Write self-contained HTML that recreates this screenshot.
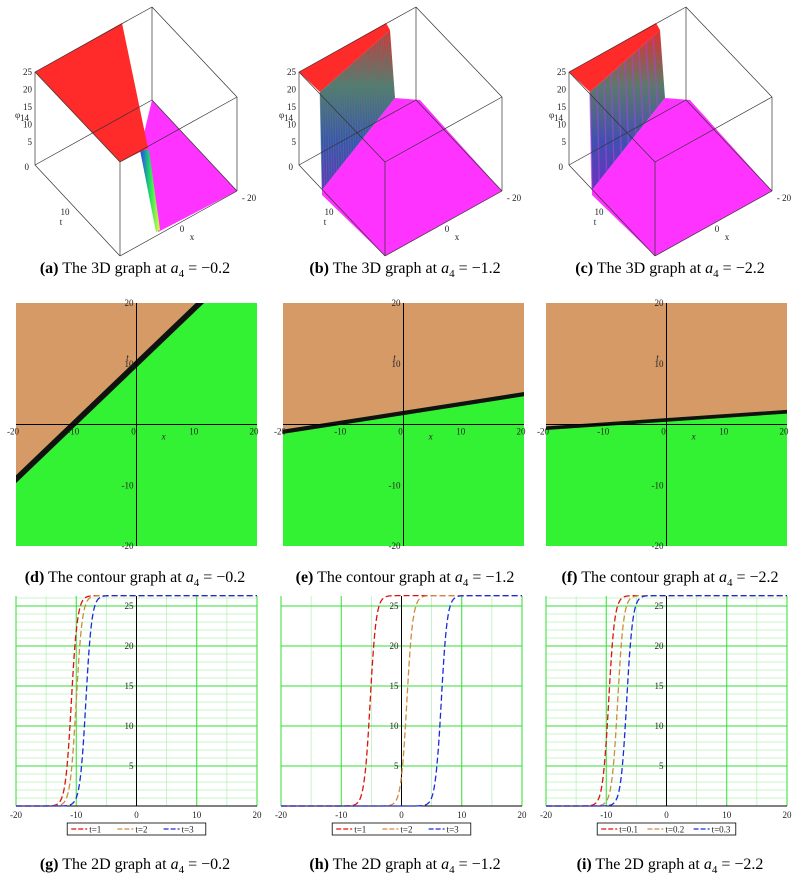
<!DOCTYPE html>
<html><head><meta charset="utf-8"><style>
body{margin:0;background:#fff;width:805px;height:889px;overflow:hidden}
svg{display:block}
text{font-family:"Liberation Serif",serif}
.cap{font-size:16px}
.tk{font-size:9px;fill:#222}
</style></head><body>
<svg id="fig" width="805" height="889" viewBox="0 0 805 889" xmlns="http://www.w3.org/2000/svg"></svg>
<script>
// ---- data ----
const params = ["-0.2","-1.2","-2.2"];
const contourLineStartT = [-9, -1.2, -0.6];   // t at x=-20
const contourLineEndT = [29, 5, 2.1];          // t at x=20
const contourBandWidth = [1.3, 0.7, 0.6];
const legendLabelsG = ["t=1","t=2","t=3"];
const legendLabelsH = ["t=1","t=2","t=3"];
const legendLabelsI = ["t=0.1","t=0.2","t=0.3"];
const centersG = [-10.8, -10.0, -8.4];
const centersH = [-5.2, 0.9, 6.6];
const centersI = [-9.6, -8.1, -6.6];
const stepHeight = 26.3;
const xTicks = [-20,-10,0,10,20];
const yTicks2D = [5,10,15,20,25];
const tTicks = [-20,-10,10,20];
const seriesColors = ["#e01010","#d08a40","#1a2ae0"];

const NS="http://www.w3.org/2000/svg";
const svg=document.getElementById('fig');
function el(tag,attrs,parent){const e=document.createElementNS(NS,tag);for(const k in attrs)e.setAttribute(k,attrs[k]);(parent||svg).appendChild(e);return e;}
function txt(x,y,s,cls,parent,anchor){const t=el('text',{x:x,y:y,class:cls,'text-anchor':anchor||'middle'},parent);t.textContent=s;return t;}

// ---- captions ----
const letters=[["a","b","c"],["d","e","f"],["g","h","i"]];
const kinds=["3D graph","contour graph","2D graph"];
const capY=[273,582,869];
const colC=[135,405,670];
for(let r=0;r<3;r++)for(let c=0;c<3;c++){
  const t=el('text',{x:colC[c],y:capY[r],class:'cap','text-anchor':'middle'});
  
  
  const b=el('tspan',{'font-weight':'bold'},t);b.textContent='('+letters[r][c]+')';
  const s1=el('tspan',{},t);s1.textContent=' The '+kinds[r]+' at ';
  const a=el('tspan',{'font-style':'italic'},t);a.textContent='a';
  const sub=el('tspan',{'font-size':'11','dy':'4'},t);sub.textContent='4';
  const s2=el('tspan',{'dy':'-4'},t);s2.textContent=' = '+params[c].replace('-','\u2212');
}

// ---- 3D plots (approximate projections) ----
const box3=[0,270,540];
function plot3D(i){
  const g=el('g',{transform:'translate('+box3[i]+',0)'});
  
  
  const P=(x,y)=>x+','+y;
  if(i===0){
    el('polygon',{points:[P(152,100),P(237,191),P(158,232),P(140,150)].join(' '),fill:'#ff33ff'},g);
    const gr=el('linearGradient',{id:'rb0',x1:'0',y1:'0',x2:'1',y2:'0'},g);
    [['0','#2040ff'],['0.5','#20e060'],['1','#e0ff40']].forEach(s=>el('stop',{offset:s[0],'stop-color':s[1]},gr));
    el('polygon',{points:[P(140,150),P(149,150),P(160,230),P(156,232)].join(' '),fill:'url(#rb0)'},g);
    el('polygon',{points:[P(35,72),P(122,23),P(148,148),P(120,162)].join(' '),fill:'#ff2a2a'},g);
  } else {
    el('polygon',{points:[P(52,190),P(125,98),P(150,100),P(232,191),P(115,256),P(52,195)].join(' '),fill:'#ff33ff'},g);
    const gr=el('linearGradient',{id:'wall'+i,x1:'0',y1:'0',x2:'0',y2:'1'},g);
    [['0','#e03030'],['0.35','#5a7a6a'],['0.7','#4050b0'],['1','#6a30c0']].forEach(s=>el('stop',{offset:s[0],'stop-color':s[1]},gr));
    el('polygon',{points:[P(50,92),P(120,30),P(125,98),P(52,190)].join(' '),fill:'url(#wall'+i+')'},g);
    const n=i===1?30:10;
    for(let k=0;k<n;k++){const f=k/n;el('line',{x1:50+70*f,y1:92-62*f,x2:52+73*f,y2:190-92*f,stroke:i===1?'#3a8a8a':'#b040e0','stroke-width':i===1?0.8:1.4,opacity:0.6},g);}
    el('polygon',{points:[P(29,72),P(116,23),P(120,30),P(50,92)].join(' '),fill:'#ff2a2a'},g);
  }
  const L=(a,b,c,d)=>el('line',{x1:a,y1:b,x2:c,y2:d,stroke:'#333','stroke-width':0.7},g);
  const o=i===0?[35,152,237,120]:[29,146,232,115];
  L(o[0],72,o[1],7);L(o[1],7,o[2],97);L(o[2],97,o[3],162);L(o[3],162,o[0],72);
  L(o[0],165,o[1],100);L(o[1],100,o[2],191);L(o[2],191,o[3],256);L(o[3],256,o[0],165);
  L(o[0],72,o[0],165);L(o[1],7,o[1],100);L(o[2],97,o[2],191);L(o[3],162,o[3],256);
  [25,20,15,10,5].forEach((v,k)=>txt(o[0]-3,75+k*17.5,String(v),'tk',g,'end'));
  txt(o[0]-6,170,'0','tk',g,'end');
  txt(o[0]-20,118,'\u03c6','tk',g,'start');txt(o[0]-15,121,'14','tk',g,'start').setAttribute('font-size','6');
  txt(o[0]+30,215,'10','tk',g);txt(o[0]+26,225,'t','tk',g);
  txt(o[2]+12,201,'- 20','tk',g);txt(o[3]+62,232,'0','tk',g);txt(o[3]+72,240,'x','tk',g);
}
for(let i=0;i<3;i++)plot3D(i);

// ---- contour plots ----
const cx0=[16,283,546],cw=241,cTop=303,cBot=546;
function contour(i){
  const g=el('g',{});
  
  
  const X=v=>cx0[i]+(v+20)*cw/40, Y=v=>cTop+(20-v)*(cBot-cTop)/40;
  const clip=el('clipPath',{id:'cc'+i},g);el('rect',{x:cx0[i],y:cTop,width:cw,height:cBot-cTop},clip);
  const inner=el('g',{'clip-path':'url(#cc'+i+')'},g);
  el('rect',{x:cx0[i],y:cTop,width:cw,height:cBot-cTop,fill:'#33f233'},inner);
  const t0=contourLineStartT[i],t1=contourLineEndT[i],bw=contourBandWidth[i];
  const up=el('polygon',{points:[X(-20)+','+Y(t0+bw/2),X(20)+','+Y(t1+bw/2),X(20)+','+Y(40),X(-20)+','+Y(40)].join(' '),fill:'#d69a66'},inner);
  
  
  const band=el('polygon',{points:[X(-20)+','+Y(t0+bw/2),X(20)+','+Y(t1+bw/2),X(20)+','+Y(t1-bw/2),X(-20)+','+Y(t0-bw/2)].join(' '),fill:'#111'},inner);
  
  
  el('line',{x1:cx0[i],y1:Y(0),x2:cx0[i]+cw,y2:Y(0),stroke:'#000','stroke-width':1},g);
  el('line',{x1:X(0),y1:cTop,x2:X(0),y2:cBot,stroke:'#000','stroke-width':1},g);
  xTicks.forEach(v=>{txt(X(v)-3,Y(0)+10,String(v),'tk',g);});
  tTicks.forEach(v=>{txt(X(0)-3,Y(v)+3,String(v),'tk',g,'end');});
  txt(X(4.5),Y(-2.5),'x','tk',g).setAttribute('font-style','italic');
  txt(X(-1.5),Y(10.5),'t','tk',g).setAttribute('font-style','italic');
}
for(let i=0;i<3;i++)contour(i);

// ---- 2D plots ----
const px0=[16,281,546],pw=241,pBase=806,pScale=8,pTop=596;
const centersAll=[centersG,centersH,centersI];
const legends=[legendLabelsG,legendLabelsH,legendLabelsI];
function plot2D(i){
  const g=el('g',{});
  
  
  const X=v=>px0[i]+(v+20)*pw/40, Y=v=>pBase-v*pScale;
  if(i!==1)for(let v=1;v<=26;v++)el('line',{x1:X(-20),y1:Y(v),x2:X(20),y2:Y(v),stroke:'#b8f0b8','stroke-width':0.7},g);
  [-15,-5,5,15].forEach(v=>el('line',{x1:X(v),y1:pTop,x2:X(v),y2:pBase,stroke:'#b8f0b8','stroke-width':0.8},g));
  [-20,-10,10,20].forEach(v=>el('line',{x1:X(v),y1:pTop,x2:X(v),y2:pBase,stroke:'#33dd33','stroke-width':1},g));
  yTicks2D.forEach(v=>el('line',{x1:X(-20),y1:Y(v),x2:X(20),y2:Y(v),stroke:'#33dd33','stroke-width':1},g));
  el('line',{x1:X(-20),y1:pBase,x2:X(20),y2:pBase,stroke:'#000','stroke-width':1},g);
  el('line',{x1:X(0),y1:pTop,x2:X(0),y2:pBase,stroke:'#000','stroke-width':1},g);
  xTicks.forEach(v=>txt(X(v),pBase+12,String(v),'tk',g));
  yTicks2D.forEach(v=>txt(X(0)-3,Y(v)+3,String(v),'tk',g,'end'));
  txt(X(0),pBase+22,'x','tk',g).setAttribute('font-style','italic');
  centersAll[i].forEach((c,k)=>{
    let d='';
    for(let s=0;s<=400;s++){const v=-20+s*0.1;const yv=stepHeight/2*(1+Math.tanh(1.0*(v-c)));d+=(s?'L':'M')+X(v).toFixed(1)+','+Y(yv).toFixed(1);}
    const p=el('path',{d:d,fill:'none',stroke:seriesColors[k],'stroke-width':1.3,'stroke-dasharray':'6,3'},g);
    
    
  });
  const lx=X(-11.5),ly=823,lw=X(11.5)-X(-11.5);
  const lg=el('g',{},g);
  
  
  el('rect',{x:lx,y:ly,width:lw,height:12,fill:'#fff',stroke:'#000','stroke-width':0.8},lg);
  legends[i].forEach((s,k)=>{
    const ex=lx+4+k*lw/3;
    el('line',{x1:ex,y1:ly+6,x2:ex+16,y2:ly+6,stroke:seriesColors[k],'stroke-width':1.2,'stroke-dasharray':'5,2'},lg);
    txt(ex+18,ly+9.5,s,'tk',lg,'start');
  });
}
for(let i=0;i<3;i++)plot2D(i);
</script>
</body></html>
